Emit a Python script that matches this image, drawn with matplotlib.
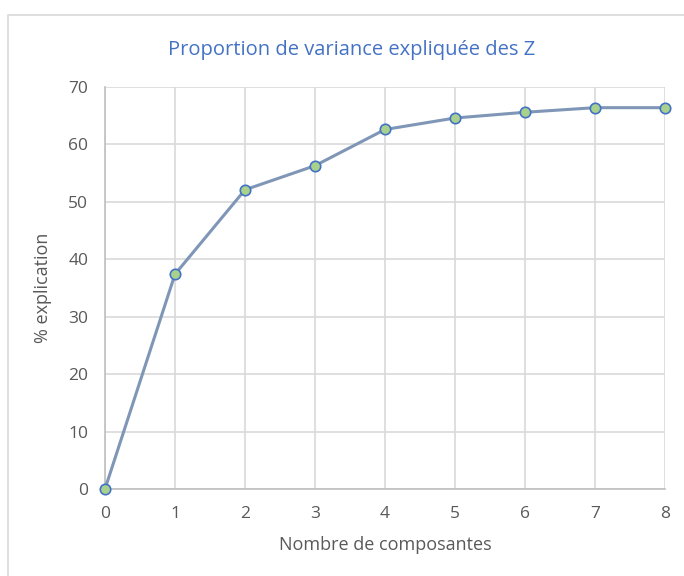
import numpy as np
import matplotlib.pyplot as plt
from matplotlib.patches import Rectangle

# Données
composantes = [0, 1, 2, 3, 4, 5, 6, 7, 8]
explication = [0, 37.4, 52.1, 56.3, 62.6, 64.6, 65.6, 66.4, 66.4]

plt.rcParams['font.family'] = ['Open Sans', 'DejaVu Sans']

fig = plt.figure(figsize=(6.84, 5.76), dpi=100)
ax = fig.add_axes([105/684, 1 - 489/576, 560/684, 402/576])

# cadre du graphique (style Excel), qui dépasse de l'image à droite et en bas
fig.patches.append(Rectangle((8/684, -0.1), 1.2, 1.1 - 15/576, transform=fig.transFigure,
                             fill=False, edgecolor='#d9d9d9', linewidth=1.2))

ax.plot(composantes, explication, '-', color='#7f96b6', linewidth=2.2, zorder=3)
ax.plot(composantes, explication, 'o', markersize=7.5, markerfacecolor='#a9d18e',
        markeredgecolor='#4472c4', markeredgewidth=1.2, zorder=4, clip_on=False)

ax.set_xlim(0, 8)
ax.set_ylim(0, 70)
ax.set_xticks(np.arange(0, 9, 1))
ax.set_yticks(np.arange(0, 71, 10))
ax.grid(True, color='#d9d9d9', linewidth=1.2)
ax.set_axisbelow(True)
for s in ['top', 'right']:
    ax.spines[s].set_visible(False)
for s in ['left', 'bottom']:
    ax.spines[s].set_color('#bfbfbf')
    ax.spines[s].set_linewidth(1.2)
ax.tick_params(length=0, labelsize=12.5, colors='#595959')
ax.tick_params(axis='x', pad=12)
ax.tick_params(axis='y', pad=12)

# titre centré sur la zone du graphique, pas sur les axes
fig.text(352/684, 1 - 50/576, 'Proportion de variance expliquée des Z', color='#4472c4',
         fontsize=14.5, ha='center', va='center')
ax.set_xlabel('Nombre de composantes', color='#595959', fontsize=13, labelpad=10)
ax.set_ylabel('% explication', color='#595959', fontsize=13, labelpad=12)

fig.savefig('out.png', dpi=100)
